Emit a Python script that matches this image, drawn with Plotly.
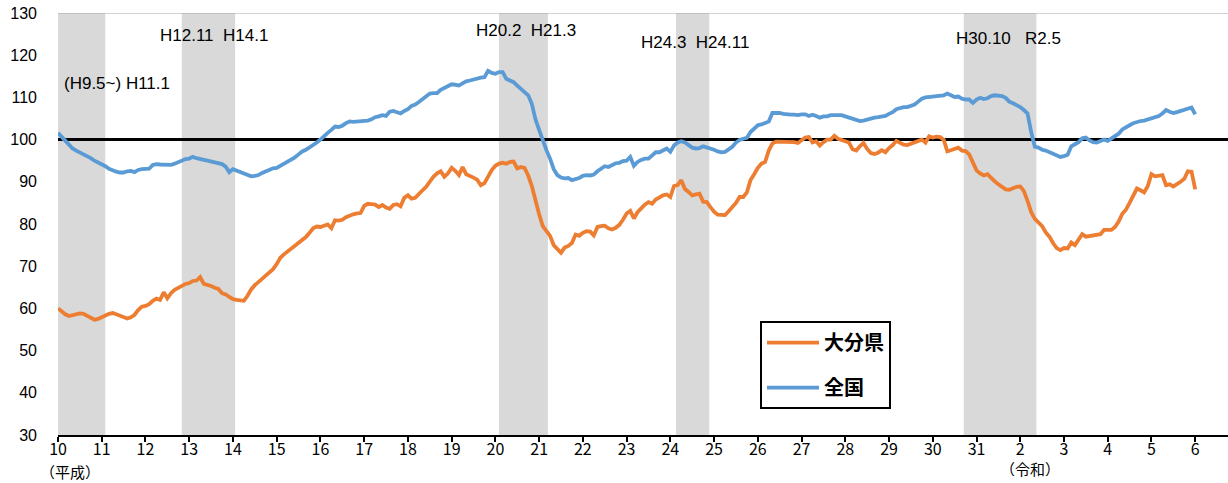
import plotly.graph_objects as go

# ---- data (monthly, Jan 1998 (H10.1) .. Jan 2024 (R6.1)) ----
start_year = 1998

oita = [
    60.0, 59.3, 58.6, 58.2, 58.4, 58.8, 58.8, 58.7, 58.3, 57.8, 57.3, 57.5,   # H10
    58.0, 58.3, 58.7, 58.9, 58.6, 58.2, 57.9, 57.6, 57.9, 58.5, 59.6, 60.4,   # H11
    60.6, 61.0, 61.8, 62.3, 62.0, 63.8, 62.4, 63.6, 64.4, 64.9, 65.3, 65.8,   # H12
    66.0, 66.5, 66.6, 67.4, 65.8, 65.6, 65.3, 64.9, 64.6, 63.6, 63.3, 62.7,   # H13
    62.2, 62.0, 61.9, 61.8, 63.0, 64.5, 65.5, 66.3, 67.0, 67.8, 68.4, 69.3,   # H14
    70.5, 72.0, 72.8, 73.5, 74.0, 74.9, 75.4, 76.2, 76.9, 77.9, 79.0, 79.4,   # H15
    79.3, 79.6, 79.9, 79.0, 80.9, 80.8, 81.0, 81.6, 82.0, 82.3, 82.5, 82.6,   # H16
    84.3, 84.8, 84.7, 84.6, 84.0, 84.5, 83.9, 83.6, 84.5, 84.7, 84.2, 86.2,   # H17
    86.8, 86.0, 86.2, 87.2, 88.0, 88.8, 90.0, 91.2, 92.0, 92.5, 91.2, 92.0,   # H18
    93.3, 92.6, 91.6, 93.5, 91.8, 91.5, 91.0, 90.5, 89.2, 89.7, 91.5, 92.8,   # H19
    93.8, 94.3, 94.5, 94.3, 94.7, 94.8, 93.2, 93.5, 93.3, 91.5, 89.0, 85.4,   # H20
    82.3, 79.5, 78.2, 77.2, 75.0, 74.0, 73.2, 74.4, 74.8, 75.5, 77.5, 77.2,   # H21
    77.9, 78.3, 78.2, 77.3, 79.3, 79.5, 79.6, 79.0, 78.7, 79.1, 79.8, 81.0,   # H22
    82.5, 83.1, 81.3, 82.8, 83.8, 84.6, 85.2, 84.8, 85.8, 86.4, 86.8, 87.0,   # H23
    86.4, 89.0, 89.2, 90.4, 88.3, 87.6, 86.8, 87.0, 87.2, 85.3, 85.2, 84.0,   # H24
    82.9, 82.2, 82.1, 82.1, 83.0, 84.0, 85.0, 86.4, 86.4, 87.5, 90.4, 91.8,   # H25
    93.3, 94.3, 94.7, 97.4, 99.1, 99.5, 99.5, 99.6, 99.6, 99.5, 99.4, 99.2,   # H26
    99.9, 100.5, 100.6, 99.3, 99.6, 98.6, 99.4, 100.0, 100.0, 100.9, 100.2, 99.9,  # H27
    99.8, 99.3, 97.7, 97.4, 98.4, 99.2, 97.8, 96.8, 96.6, 96.9, 97.5, 97.0,   # H28
    98.0, 98.7, 99.7, 99.3, 98.8, 98.7, 99.0, 99.3, 99.6, 100.0, 99.3, 100.8,  # H29
    100.5, 100.7, 100.6, 100.0, 97.2, 97.5, 97.6, 98.1, 97.4, 97.3, 96.5, 94.5,  # H30
    92.7, 92.0, 91.5, 91.8, 90.8, 90.1, 89.4, 88.8, 88.2, 88.1, 88.5, 88.8,   # H31/R1
    88.9, 87.8, 85.5, 82.8, 81.2, 80.4, 79.5, 78.0, 77.0, 75.5, 74.3, 73.8,   # R2
    74.3, 74.2, 75.6, 75.0, 76.3, 77.6, 77.0, 77.2, 77.3, 77.4, 77.6, 78.6,   # R3
    78.7, 78.6, 79.3, 80.6, 82.4, 83.4, 85.0, 86.6, 88.4, 88.0, 87.5, 89.0,   # R4
    91.8, 91.3, 91.5, 91.6, 89.2, 89.4, 88.9, 89.4, 90.0, 90.7, 92.5, 92.4,   # R5
    88.2,                                                                     # R6
]

zenkoku = [
    101.6, 100.7, 99.7, 98.7, 97.9, 97.4, 97.0, 96.6, 96.1, 95.6, 95.0, 94.6,  # H10
    94.2, 93.7, 93.1, 92.7, 92.4, 92.2, 92.2, 92.5, 92.6, 92.3, 92.8, 93.0,   # H11
    93.1, 93.1, 94.0, 94.2, 94.1, 94.0, 94.0, 94.0, 94.3, 94.7, 95.1, 95.4,   # H12
    95.5, 95.9, 95.6, 95.3, 95.2, 95.0, 94.8, 94.5, 94.3, 94.2, 93.6, 92.3,   # H13
    93.0, 92.7, 92.4, 92.1, 91.6, 91.3, 91.4, 91.6, 92.1, 92.5, 92.9, 93.2,   # H14
    93.3, 93.8, 94.2, 94.7, 95.2, 95.8, 96.5, 97.2, 97.6, 98.1, 98.6, 99.3,   # H15
    100.0, 100.9, 101.6, 102.3, 103.1, 103.0, 103.3, 103.9, 104.3, 104.2, 104.3, 104.2,  # H16
    104.4, 104.5, 104.8, 105.3, 105.5, 105.8, 105.6, 106.6, 106.8, 106.4, 106.2, 106.8,  # H17
    107.2, 108.0, 108.3, 108.9, 109.6, 110.3, 110.9, 111.0, 111.0, 111.8, 112.3, 112.8,  # H18
    113.1, 113.0, 112.8, 113.3, 113.8, 114.0, 114.3, 114.6, 114.7, 114.8, 116.3, 115.8,  # H19
    115.6, 116.0, 116.0, 114.4, 113.9, 113.6, 112.8, 112.0, 111.5, 110.5, 108.5, 104.8,  # H20
    102.3, 99.8, 97.5, 95.5, 93.0, 91.6, 91.0, 90.8, 90.9, 90.4, 90.6, 90.9,  # H21
    91.4, 91.6, 91.5, 91.7, 92.5, 93.2, 93.7, 93.5, 93.9, 94.4, 94.5, 94.9,   # H22
    95.0, 95.9, 93.8, 94.7, 95.2, 95.5, 95.5, 96.3, 97.0, 97.0, 97.4, 97.9,   # H23
    97.1, 98.6, 99.3, 99.6, 99.3, 98.8, 98.1, 97.9, 98.0, 98.4, 98.2, 98.0,   # H24
    97.6, 97.2, 97.0, 97.1, 97.8, 98.3, 99.3, 99.9, 100.2, 100.4, 101.8, 102.6,  # H25
    103.4, 103.6, 103.9, 104.3, 106.3, 106.4, 106.3, 106.1, 105.9, 105.9, 105.9, 105.8,  # H26
    106.0, 106.0, 105.6, 105.9, 105.6, 105.2, 105.5, 105.5, 105.8, 105.8, 105.8, 105.8,  # H27
    105.5, 105.2, 105.1, 104.8, 104.4, 104.5, 104.8, 104.9, 105.2, 105.3, 105.4, 105.6,  # H28
    106.1, 106.5, 107.2, 107.5, 107.7, 107.7, 107.9, 108.3, 109.0, 109.7, 110.0, 110.0,  # H29
    110.2, 110.3, 110.4, 110.5, 110.9, 110.5, 110.1, 110.2, 109.7, 109.5, 109.5, 108.7,  # H30
    109.5, 109.9, 109.6, 109.8, 110.3, 110.5, 110.5, 110.3, 109.9, 109.0, 108.6, 108.2,  # H31/R1
    107.7, 107.0, 106.2, 101.8, 98.3, 98.1, 97.6, 97.4, 97.0, 96.7, 96.2, 95.9,  # R2
    96.1, 96.4, 98.4, 99.0, 99.4, 100.3, 100.5, 99.8, 99.4, 99.3, 99.6, 100.0,  # R3
    99.7, 100.2, 100.8, 101.4, 102.4, 102.8, 103.4, 103.9, 104.2, 104.4, 104.5, 104.8,  # R4
    105.2, 105.3, 105.6, 106.2, 107.0, 106.6, 106.3, 106.5, 106.8, 107.0, 107.2, 107.6,  # R5
    106.0,                                                                    # R6
]

tick_years = list(range(1998, 2025))
tick_labels = ["10", "11", "12", "13", "14", "15", "16", "17", "18", "19", "20",
               "21", "22", "23", "24", "25", "26", "27", "28", "29", "30", "31",
               "2", "3", "4", "5", "6"]

# recession (景気後退期) periods, decimal years
rec_start = [1998.0, 2000.83, 2008.08, 2012.13, 2018.71]
rec_end = [1999.08, 2002.05, 2009.20, 2012.89, 2020.37]
rec_labels = ["(H9.5~) H11.1", "H12.11  H14.1", "H20.2  H21.3", "H24.3  H24.11", "H30.10   R2.5"]
rec_label_x = [1999.36, 2001.56, 2008.69, 2012.57, 2019.72]
rec_label_y = [113.3, 124.7, 125.9, 123.1, 124.0]

series_names = ["大分県", "全国"]
series_colors = ["#ED7D31", "#5B9BD5"]

x_min, x_max = 1998.0, 2024.75
y_min, y_max = 30, 130
ref_level = 100

x_months = [start_year + i / 12 for i in range(len(oita))]

fig = go.Figure()
for name, vals, col in zip(series_names, [oita, zenkoku], series_colors):
    fig.add_trace(go.Scatter(
        x=x_months, y=vals, mode="lines", name=name, legendgroup=name,
        line=dict(color=col, width=3.8),
    ))

shapes = []
for s, e in zip(rec_start, rec_end):
    shapes.append(dict(type="rect", xref="x", yref="y", x0=s, x1=e, y0=y_min, y1=y_max,
                       fillcolor="#D9D9D9", line=dict(width=0), layer="below"))
shapes.append(dict(type="line", xref="x", yref="y", x0=x_min, x1=x_max, y0=ref_level, y1=ref_level,
                   line=dict(color="black", width=3), layer="below"))
shapes.append(dict(type="line", xref="x", yref="y", x0=x_min, x1=x_max, y0=y_max, y1=y_max,
                   line=dict(color="#A6A6A6", width=1), layer="below"))

annotations = []
for t, ax, ay in zip(rec_labels, rec_label_x, rec_label_y):
    annotations.append(dict(text=t, x=ax, y=ay, xref="x", yref="y", showarrow=False,
                            font=dict(family="Liberation Sans, Arial", size=17, color="black")))
annotations.append(dict(text="（平成）", x=1998.27, y=-0.117, xref="x", yref="paper",
                        showarrow=False, font=dict(family="Noto Sans CJK JP", size=15, color="black")))
annotations.append(dict(text="（令和）", x=2020.23, y=-0.108, xref="x", yref="paper",
                        showarrow=False, font=dict(family="Noto Sans CJK JP", size=15, color="black")))

fig.update_layout(
    width=1228, height=483,
    margin=dict(l=58, r=0, t=13, b=48, autoexpand=False),
    plot_bgcolor="white", paper_bgcolor="white",
    shapes=shapes, annotations=annotations,
    showlegend=True,
    legend=dict(x=0.6, y=0.27, xanchor="left", yanchor="top",
                bgcolor="white", bordercolor="black", borderwidth=2,
                font=dict(family="Noto Sans CJK JP", size=20, color="black", weight="bold"),
                tracegroupgap=16, itemwidth=52),
    xaxis=dict(range=[x_min, x_max], tickvals=tick_years, ticktext=tick_labels,
               showgrid=False, zeroline=False, showline=True, linecolor="black", linewidth=2,
               ticks="outside", ticklen=5, tickwidth=1.5, tickcolor="black", automargin=False,
               ticklabelstandoff=-6,
               tickfont=dict(family="Noto Sans CJK JP", size=16, color="black")),
    yaxis=dict(range=[y_min, y_max], dtick=10, tick0=30, showgrid=False, zeroline=False,
               showline=False, ticks="", ticklabelstandoff=20, automargin=False,
               tickfont=dict(family="Liberation Sans, Arial", size=16, color="black")),
)

fig.write_html("out.html", config={"displayModeBar": False},
               post_script="document.body.style.margin='0';")
